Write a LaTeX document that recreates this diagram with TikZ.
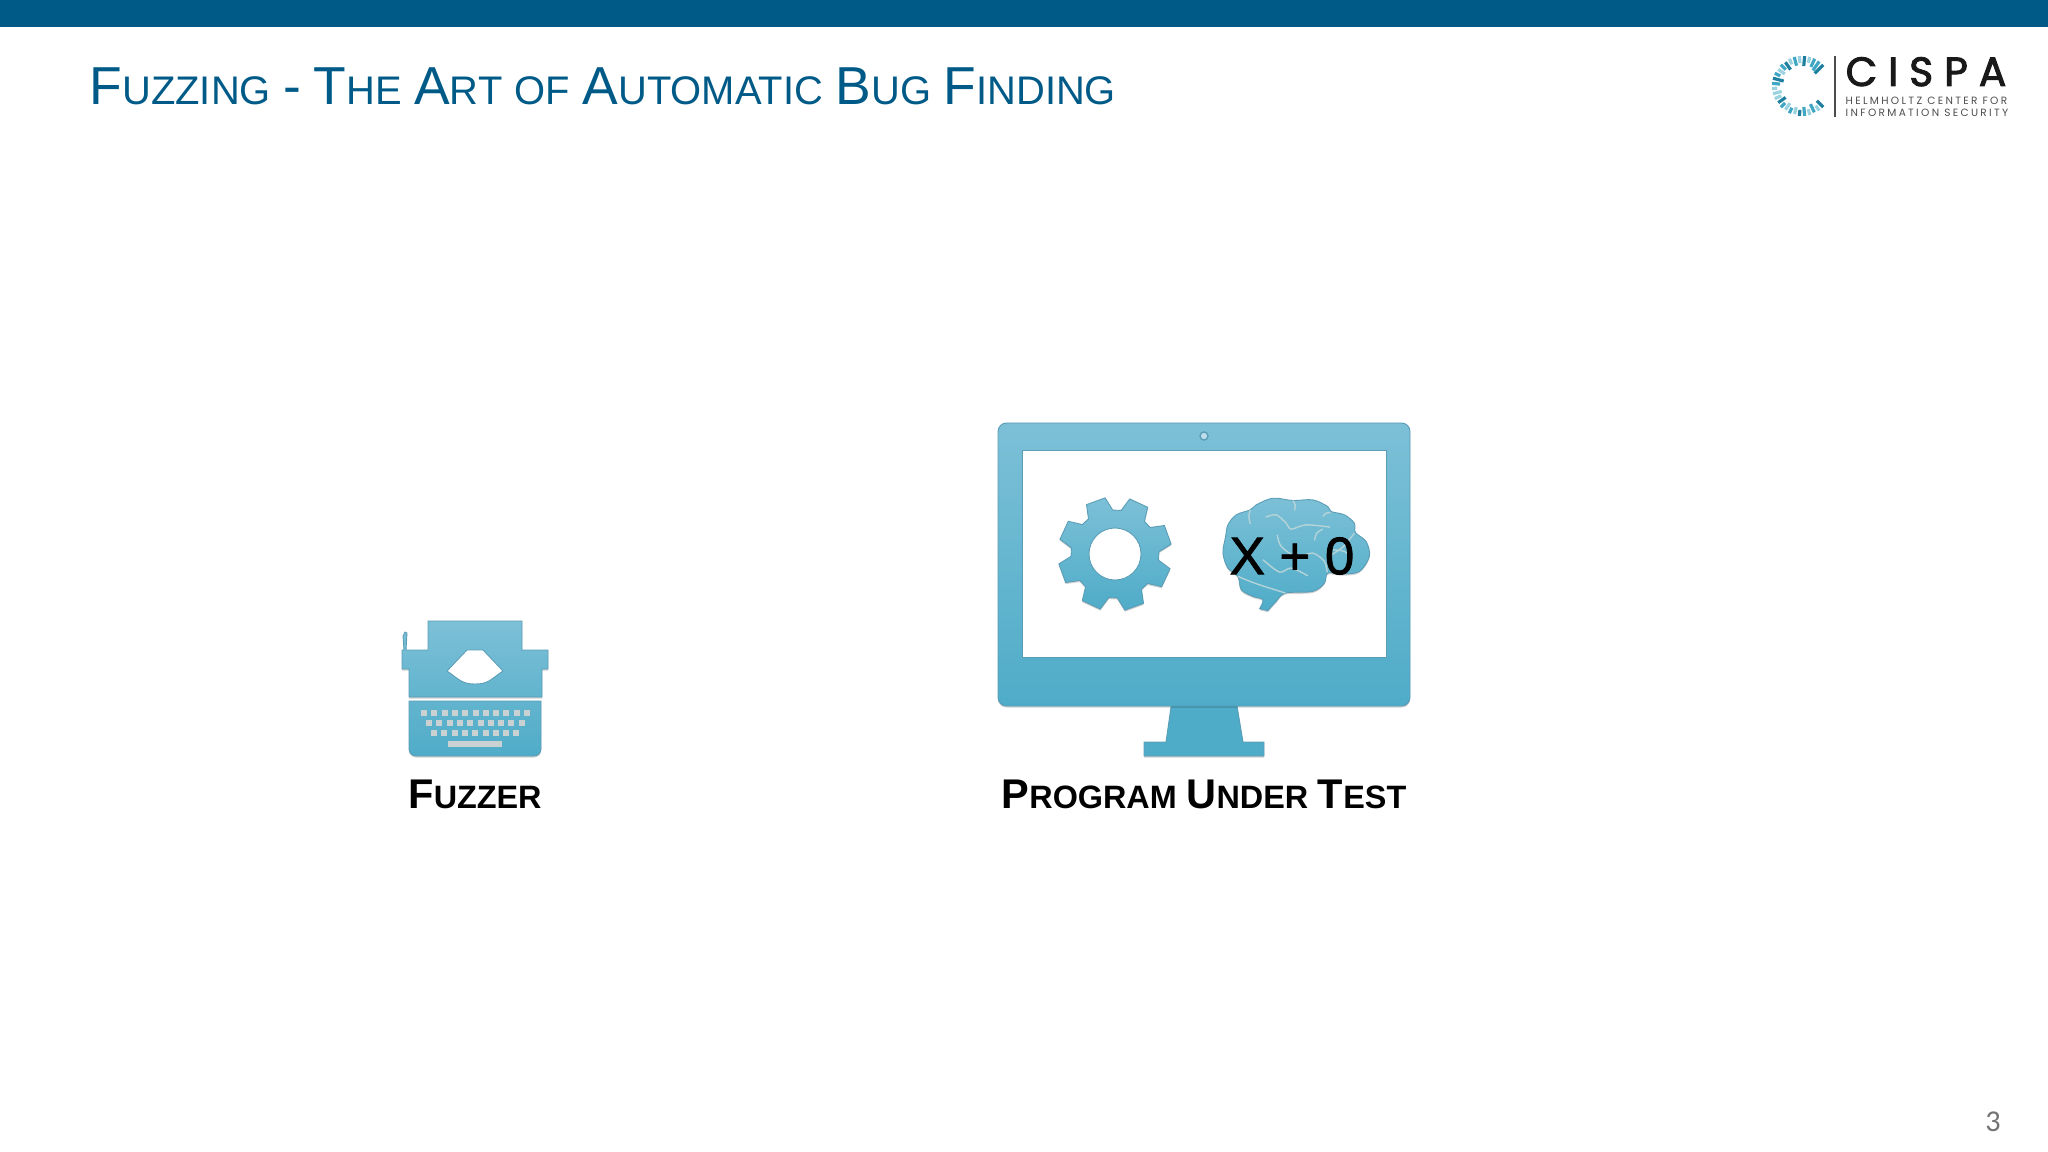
\documentclass[tikz,border=0pt]{standalone}
\usepackage{fontspec}
\usepackage{xcolor}
\usetikzlibrary{shadows}
\setmainfont{Liberation Sans}
\newfontfamily\logofont[LetterSpace=27,FakeBold=2.4]{Poppins}
\newfontfamily\logosmall[LetterSpace=22]{Poppins}
\newfontfamily\pagefont{Carlito}
\definecolor{slideblue}{HTML}{005A87}
\definecolor{icontop}{HTML}{7CC0D7}
\definecolor{iconbottom}{HTML}{4FACC8}
\definecolor{iconmid}{HTML}{62B4CE}
\definecolor{iconline}{HTML}{5B9DB6}
\definecolor{keygrey}{HTML}{C9D1D3}
\definecolor{foldline}{HTML}{B4D3D8}
\definecolor{tickdark}{HTML}{1F7F9F}
\definecolor{tickmid}{HTML}{3FA6C4}
\definecolor{ticklight}{HTML}{9AD2E0}
\newcommand{\titlecaps}[2]{{\fontsize{15.2}{16}\selectfont #1}{\fontsize{11.35}{14}\selectfont #2}}
\newcommand{\labelcaps}[2]{{\fontsize{11.8}{14}\selectfont #1}{\fontsize{9.2}{12}\selectfont #2}}
\tikzset{
  softshadow/.style={drop shadow={shadow xshift=0pt,shadow yshift=-0.45pt,
                     fill=black,opacity=0.18}},
  iconshape/.style={draw=iconline,line width=0.25pt,top color=icontop,
                    bottom color=iconbottom,softshadow},
  holeshape/.style={draw=iconline,line width=0.25pt,fill=white},
  keyshape/.style={fill=keygrey},
  foldshape/.style={draw=foldline,line width=0.4pt},
  slidetitle/.style={anchor=base west,inner sep=0pt,text=slideblue},
  figlabel/.style={anchor=base,inner sep=0pt,font=\bfseries,text=black},
}
\begin{document}
\begin{tikzpicture}[x=0.01cm,y=-0.01cm]
  \useasboundingbox (0,0) rectangle (2048,1152);
  \fill[slideblue] (0,0) rectangle (2048,27);
  \node[slidetitle] (title) at (89,105) {\spaceskip=3.55pt\titlecaps{F}{UZZING} \titlecaps{-}{} \titlecaps{T}{HE} \titlecaps{A}{RT} {\fontsize{11.35}{14}\selectfont OF} \titlecaps{A}{UTOMATIC} \titlecaps{B}{UG} \titlecaps{F}{INDING}};

  % logo
  \foreach \a/\ri/\ro/\c in {45/21/30/tickdark,55/24/30/ticklight,65/20/29/tickmid,75/24/30/ticklight,
    85/21/30/tickmid,95/24/30/tickdark,105/22/29/ticklight,115/24/30/tickmid,125/21/29/ticklight,
    135/24/30/tickmid,145/20/29/tickdark,155/23/30/ticklight,165/21/30/ticklight,175/25/30/ticklight,
    185/22/30/tickmid,195/19/30/tickdark,205/24/30/tickmid,215/21/29/ticklight,225/23/30/tickmid,
    235/20/29/tickdark,245/24/30/ticklight,255/21/30/tickmid,265/23/30/ticklight,275/20/30/tickdark,
    285/24/30/ticklight,295/21/30/tickmid,305/19/30/tickmid,315/18/30/tickdark}{
    \draw[\c,line width=0.9pt] (1802,86) ++(\a:\ri) -- ++(\a:\ro-\ri);
  }
  \coordinate (barTop) at (1835,56);
  \coordinate (barBot) at (1835,117);
  \draw[black!70,line width=0.4pt] (barTop) -- (barBot);
  \node[anchor=base west,inner sep=0pt,text=black!90] (cispa) at (1845,86) {\fontsize{11.6}{12}\logofont CISPA};
  \node[anchor=base west,inner sep=0pt,text=black!70] (helm) at (1845,105) {\fontsize{3}{4}\logosmall HELMHOLTZ CENTER FOR};
  \node[anchor=base west,inner sep=0pt,text=black!70] (info) at (1845,117) {\fontsize{3}{4}\logosmall INFORMATION SECURITY};

  % typewriter
  \draw[iconshape,bottom color=iconmid] (428,650) -- (428,621) -- (522,621) -- (522,650) -- (548,650) -- (548,669)
    -- (542,669) -- (542,697) -- (409,697) -- (409,669) -- (402,669) -- (402,650) -- (404,650)
    -- (403,636) -- (405,632) -- (407,633) -- (406,650) -- cycle;
  \draw[holeshape] (467,650) -- (483,650) -- (503,671) .. controls (490,680) and (488,684) .. (475,684)
    .. controls (462,684) and (460,680) .. (447,671) -- cycle;
  \draw[iconshape,top color=iconmid] (409,701) -- (541,701) [rounded corners=2pt] -- (541,756) -- (409,756) [sharp corners] -- cycle;
  \foreach \k in {0,...,10}{ \fill[keyshape] (421+\k*10.3,710) rectangle ++(6,6); }
  \foreach \k in {0,...,9}{ \fill[keyshape] (426+\k*10.3,720) rectangle ++(6,6); }
  \foreach \k in {0,...,8}{ \fill[keyshape] (431+\k*10.3,730) rectangle ++(6,6); }
  \fill[keyshape] (448,741) rectangle (502,747);
  \node[figlabel] (fuzzer) at (475,808) {\labelcaps{F}{UZZER}};

  % monitor
  \draw[iconshape,top color=iconbottom] (1172,700) -- (1236,700) -- (1243,742) -- (1264,742) -- (1264,756) -- (1144,756) -- (1144,742) -- (1166,742) -- cycle;
  \draw[iconshape,rounded corners=2.4pt] (998,423) -- (1410,423) -- (1410,706) -- (998,706) -- cycle;
  \draw[holeshape] (1022,450) rectangle (1386,657);
  \draw[line width=0.4pt,draw=iconline,fill=icontop!50] (1204,436) circle (4);

  % gear
  \begin{scope}[shift={(1115,554)}]
    \draw[iconshape] (8:44) \foreach \a in {25,70,...,340}{
      -- (\a-17:44) -- (\a-10:57) -- (\a+10:57) -- (\a+17:44) } -- cycle;
    \draw[holeshape] (0,0) circle (26);
  \end{scope}

  % brain
  \begin{scope}[shift={(980,410)},x=0.00333cm,y=-0.00333cm]
    \draw[iconshape] plot[smooth,tension=0.55] coordinates {(840,597) (850,570) (820,560) (785,540) (775,500) (745,475) (730,430) (738,380) (745,345) (770,315) (812,300) (830,285) (880,265) (940,272) (1000,270) (1045,290) (1055,305) (1095,315) (1125,340) (1128,368) (1160,395) (1170,440) (1140,485) (1090,493) (1045,490) (1035,520) (1000,545) (918,550) (890,575) (865,603)} -- cycle;
    \draw[foldshape] plot[smooth] coordinates {(812,300) (808,320) (812,342)};
    \draw[foldshape] plot[smooth] coordinates {(940,272) (947,285) (945,302)};
    \draw[foldshape] plot[smooth] coordinates {(1055,308) (1040,310) (1030,320)};
    \draw[foldshape] plot[smooth] coordinates {(858,322) (890,315) (920,340) (935,358) (980,345) (1052,352)};
    \draw[foldshape] plot[smooth] coordinates {(1030,358) (1012,370) (1005,392)};
    \draw[foldshape] plot[smooth] coordinates {(893,375) (905,410) (950,440) (1000,430) (1035,455) (1043,488)};
    \draw[foldshape] plot[smooth] coordinates {(1125,370) (1090,412) (1045,442)};
    \draw[foldshape] plot[smooth] coordinates {(1060,420) (1095,425) (1120,445)};
    \draw[foldshape] plot[smooth] coordinates {(850,450) (900,487) (935,475) (985,498)};
    \draw[foldshape] plot[smooth] coordinates {(775,500) (830,522) (918,550)};
  \end{scope}
  \node[anchor=center,inner sep=0pt,text=black] (expr) at (1292,556) {\fontsize{15}{16}\addfontfeature{FakeBold=1.5}\selectfont X + 0};
  \node[figlabel] (put) at (1204,808) {\labelcaps{P}{ROGRAM} \labelcaps{U}{NDER} \labelcaps{T}{EST}};

  \node[anchor=base,inner sep=0pt,text=black!55] (page) at (1993,1131) {\fontsize{8.6}{9}\pagefont 3};
\end{tikzpicture}
\end{document}
